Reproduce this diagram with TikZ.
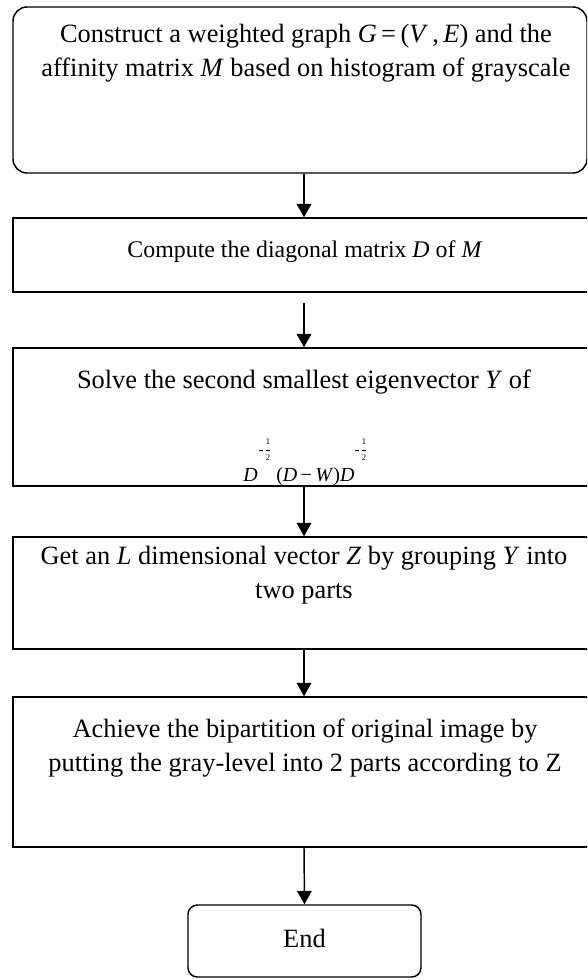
\documentclass[tikz,border=0pt]{standalone}
\usepackage{fontspec}
\setmainfont{Liberation Serif}
\usetikzlibrary{arrows.meta}
\begin{document}
\begin{tikzpicture}[x=0.75pt,y=-0.75pt,
  box/.style={draw=black, line width=1.1pt, inner sep=0pt},
  rbox/.style={box, rounded corners=10.5pt},
  ebox/.style={box, rounded corners=7pt},
  lbl/.style={align=center, inner sep=0pt, font=\fontsize{19.8}{25.5}\selectfont},
  slbl/.style={align=center, inner sep=0pt, font=\fontsize{17.9}{22}\selectfont},
  fml/.style={inner sep=0pt, anchor=base west, font=\fontsize{15}{18}\selectfont},
  expo/.style={inner sep=0pt, font=\fontsize{6.5}{6.5}\selectfont},
  arr/.style={line width=1.1pt, -{Triangle[length=10pt,width=11pt]}}
]
\useasboundingbox (0,0) rectangle (587,980);
\clip (0,0) rectangle (587,980);
% boxes
\node[rbox, minimum width=430.5pt, minimum height=124.5pt] (b1) at (300,90) {};
\node[box, minimum width=436.5pt, minimum height=55.5pt] (b2) at (304,255) {};
\node[box, minimum width=436.5pt, minimum height=103.5pt] (b3) at (304,417) {};
\node[box, minimum width=436.5pt, minimum height=84pt] (b4) at (304,593) {};
\node[box, minimum width=436.5pt, minimum height=112.5pt] (b5) at (304,772) {};
\node[ebox, minimum width=174.75pt, minimum height=54pt] (b6) at (304.5,941) {};
% texts
\node[lbl] (t1) at (306,53) {Construct a weighted graph \textit{G}\,=\,(\textit{V}\,,\,\textit{E}) and the\\affinity matrix \textit{M} based on histogram of grayscale};
\node[slbl] (t2) at (305,252) {Compute the diagonal matrix \textit{D} of \textit{M}};
\node[lbl] (t3) at (304,382) {Solve the second smallest eigenvector \textit{Y} of};
\node[fml] (t3a) at (243,481) {\itshape D};
\node[fml] (t3b) at (276,481) {(\textit{D}\,−\,\textit{W})\textit{D}};
% exponents -1/2
\node[expo] (e1m) at (261,450) {\rule{3pt}{0.45pt}};
\node[expo] (e1n) at (268,442) {1};
\node[expo] (e1b) at (268,450) {\rule{3.6pt}{0.4pt}};
\node[expo] (e1d) at (268,457.5) {2};
\node[expo] (e2m) at (357,450) {\rule{3pt}{0.45pt}};
\node[expo] (e2n) at (364,442) {1};
\node[expo] (e2b) at (364,450) {\rule{3.6pt}{0.4pt}};
\node[expo] (e2d) at (364,457.5) {2};
\node[lbl] (t4) at (304,575) {Get an \textit{L} dimensional vector \textit{Z} by grouping \textit{Y} into\\two parts};
\node[lbl] (t5) at (305,748) {Achieve the bipartition of original image by\\putting the gray-level into 2 parts according to Z};
\node[lbl] (t6) at (304.5,938) {End};
% connectors
\draw[arr] (b1.south -| b2.north) -- (b2.north);
\draw[arr] ([yshift=-7.5pt]b2.south) -- (b3.north);
\draw[arr] (b3.south) -- (b4.north);
\draw[arr] (b4.south) -- (b5.north);
\draw[arr] (b5.south) -- (b6.north);
\end{tikzpicture}
\end{document}
